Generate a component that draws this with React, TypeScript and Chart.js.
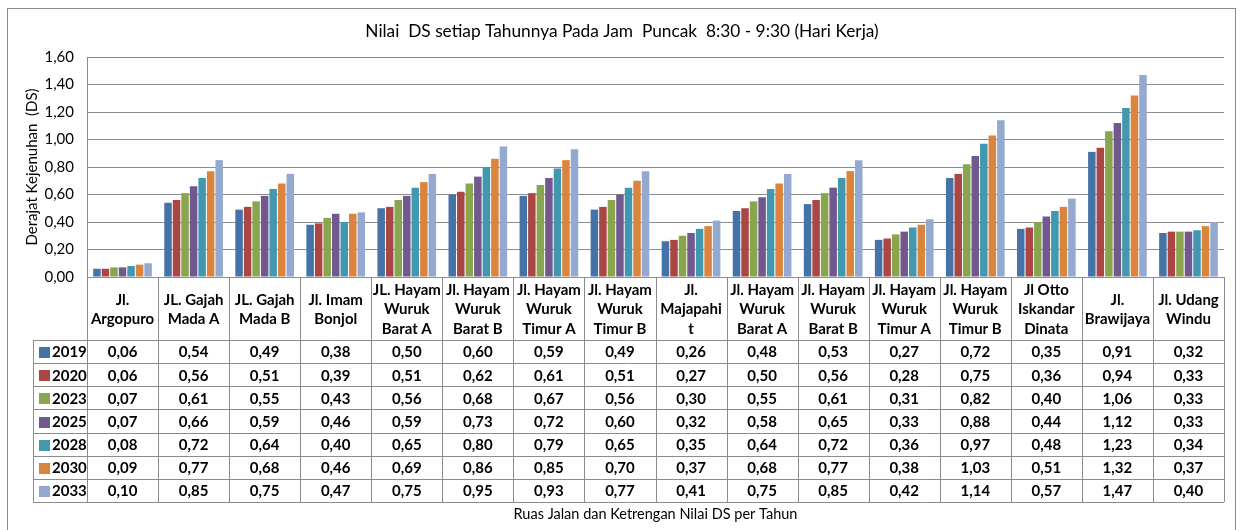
import React, { useEffect, useRef } from "react";
import { Chart, registerables } from "chart.js";

Chart.register(...registerables);

const categories: string[][] = [
  ["Jl.", "Argopuro"],
  ["JL. Gajah", "Mada A"],
  ["JL. Gajah", "Mada B"],
  ["Jl. Imam", "Bonjol"],
  ["JL. Hayam", "Wuruk", "Barat A"],
  ["Jl. Hayam", "Wuruk", "Barat B"],
  ["Jl. Hayam", "Wuruk", "Timur A"],
  ["Jl. Hayam", "Wuruk", "Timur B"],
  ["Jl.", "Majapahi", "t"],
  ["Jl. Hayam", "Wuruk", "Barat A"],
  ["Jl. Hayam", "Wuruk", "Barat B"],
  ["Jl. Hayam", "Wuruk", "Timur A"],
  ["Jl. Hayam", "Wuruk", "Timur B"],
  ["Jl Otto", "Iskandar", "Dinata"],
  ["Jl.", "Brawijaya"],
  ["Jl. Udang", "Windu"],
];

const years = ["2019", "2020", "2023", "2025", "2028", "2030", "2033"];

const ds2019 = [0.06, 0.54, 0.49, 0.38, 0.5, 0.6, 0.59, 0.49, 0.26, 0.48, 0.53, 0.27, 0.72, 0.35, 0.91, 0.32];
const ds2020 = [0.06, 0.56, 0.51, 0.39, 0.51, 0.62, 0.61, 0.51, 0.27, 0.5, 0.56, 0.28, 0.75, 0.36, 0.94, 0.33];
const ds2023 = [0.07, 0.61, 0.55, 0.43, 0.56, 0.68, 0.67, 0.56, 0.3, 0.55, 0.61, 0.31, 0.82, 0.4, 1.06, 0.33];
const ds2025 = [0.07, 0.66, 0.59, 0.46, 0.59, 0.73, 0.72, 0.6, 0.32, 0.58, 0.65, 0.33, 0.88, 0.44, 1.12, 0.33];
const ds2028 = [0.08, 0.72, 0.64, 0.4, 0.65, 0.8, 0.79, 0.65, 0.35, 0.64, 0.72, 0.36, 0.97, 0.48, 1.23, 0.34];
const ds2030 = [0.09, 0.77, 0.68, 0.46, 0.69, 0.86, 0.85, 0.7, 0.37, 0.68, 0.77, 0.38, 1.03, 0.51, 1.32, 0.37];
const ds2033 = [0.1, 0.85, 0.75, 0.47, 0.75, 0.95, 0.93, 0.77, 0.41, 0.75, 0.85, 0.42, 1.14, 0.57, 1.47, 0.4];

const seriesValues = [ds2019, ds2020, ds2023, ds2025, ds2028, ds2030, ds2033];
const colors = ["#4572A7", "#AA4643", "#89A54E", "#71588F", "#4198AF", "#DB843D", "#93A9CF"];

const yTicks = [0, 0.2, 0.4, 0.6, 0.8, 1.0, 1.2, 1.4, 1.6];

const titleText = "Nilai  DS setiap Tahunnya Pada Jam  Puncak  8:30 - 9:30 (Hari Kerja)";
const yTitleText = "Derajat Kejenuhan  (DS)";
const xTitleText = "Ruas Jalan dan Ketrengan Nilai DS per Tahun";

const fmt = (v: number) => v.toFixed(2).replace(".", ",");
const FONT = "Lato, 'Open Sans', sans-serif";
const LINE = "#8c8c8c";

const tablePlugin = {
  id: "dataTable",
  beforeDraw(chart: any) {
    const ctx = chart.ctx;
    ctx.save();
    ctx.fillStyle = "#ffffff";
    ctx.fillRect(0, 0, chart.width, chart.height);
    ctx.restore();
  },
  afterDraw(chart: any) {
    const ctx = chart.ctx as CanvasRenderingContext2D;
    const { left, right, top, bottom } = chart.chartArea;
    const n = categories.length;
    const colW = (right - left) / n;
    const headerH = 63;
    const rowH = 23.15;
    const headerBottom = bottom + headerH;
    const tableBottom = headerBottom + rowH * years.length;
    const legendLeft = 33;

    ctx.save();
    // outer frame
    ctx.strokeStyle = "#8a8a8a";
    ctx.lineWidth = 1;
    ctx.strokeRect(7.5, 8.5, 1228, 540);

    // table lines
    ctx.strokeStyle = LINE;
    ctx.lineWidth = 1;
    ctx.beginPath();
    ctx.moveTo(left, Math.round(bottom) + 0.5);
    ctx.lineTo(right, Math.round(bottom) + 0.5);
    for (let r = 0; r <= years.length; r++) {
      const y = Math.round(headerBottom + r * rowH) + 0.5;
      ctx.moveTo(legendLeft, y);
      ctx.lineTo(right, y);
    }
    for (let i = 0; i <= n; i++) {
      const x = Math.round(left + i * colW) + 0.5;
      ctx.moveTo(x, bottom);
      ctx.lineTo(x, tableBottom);
    }
    ctx.moveTo(legendLeft + 0.5, headerBottom);
    ctx.lineTo(legendLeft + 0.5, tableBottom);
    ctx.stroke();

    // header text
    ctx.fillStyle = "#000000";
    ctx.font = `bold 15px ${FONT}`;
    ctx.textAlign = "center";
    ctx.textBaseline = "middle";
    const xs = chart.scales.x;
    categories.forEach((lines, i) => {
      const cx = xs.getPixelForValue(i);
      const lh = 19.5;
      const cy = bottom + headerH / 2 + 1;
      const start = cy - ((lines.length - 1) * lh) / 2;
      lines.forEach((t, k) => ctx.fillText(t, cx, start + k * lh));
    });

    // data rows
    years.forEach((yr, r) => {
      const cy = headerBottom + r * rowH + rowH / 2 + 1;
      ctx.fillStyle = colors[r];
      ctx.fillRect(legendLeft + 6, Math.round(cy - 5.5), 11, 11);
      ctx.fillStyle = "#000000";
      ctx.textAlign = "left";
      ctx.fillText(yr, legendLeft + 19, cy);
      ctx.textAlign = "center";
      seriesValues[r].forEach((v, i) => {
        ctx.fillText(fmt(v), xs.getPixelForValue(i), cy);
      });
    });

    // titles
    ctx.font = `17.3px ${FONT}`;
    ctx.textAlign = "center";
    ctx.fillText(titleText, 622, 31);

    ctx.font = `14.5px ${FONT}`;
    ctx.fillText(xTitleText, (left + right) / 2, 514);

    ctx.save();
    ctx.font = `15px ${FONT}`;
    ctx.translate(32, (top + bottom) / 2);
    ctx.rotate(-Math.PI / 2);
    ctx.fillText(yTitleText, 0, 0);
    ctx.restore();

    ctx.restore();
  },
};

export default function App() {
  const ref = useRef<HTMLCanvasElement | null>(null);
  useEffect(() => {
    if (!ref.current) return;
    const chart = new Chart(ref.current, {
      type: "bar",
      data: {
        labels: categories.map((c) => c.join(" ")),
        datasets: years.map((yr, i) => ({
          label: yr,
          data: seriesValues[i],
          backgroundColor: colors[i],
          borderWidth: 0,
          categoryPercentage: 0.84,
          barPercentage: 0.88,
        })),
      },
      options: {
        responsive: false,
        animation: false,
        layout: { padding: { left: 0, right: 16, top: 57, bottom: 253 } },
        plugins: {
          legend: { display: false },
          title: { display: false },
          tooltip: { enabled: false },
        },
        scales: {
          x: {
            ticks: { display: false },
            grid: { display: false },
            border: { display: false },
            afterFit: (s: any) => {
              s.height = 0;
            },
          },
          y: {
            min: 0,
            max: 1.6,
            afterBuildTicks: (s: any) => {
              s.ticks = yTicks.map((v) => ({ value: v }));
            },
            ticks: {
              padding: 13,
              color: "#000000",
              font: { family: FONT, size: 15 },
              callback: (v: any) => fmt(Number(v)),
            },
            grid: { color: LINE, lineWidth: 1, drawTicks: false },
            border: { display: true, color: LINE },
            afterFit: (s: any) => {
              s.width = 87;
            },
          },
        },
      },
      plugins: [tablePlugin],
    });
    return () => chart.destroy();
  }, []);
  return (
    <div style={{ position: "fixed", left: 0, top: 0, width: 1240, height: 530, background: "#fff" }}>
      <canvas ref={ref} width={1240} height={530} style={{ display: "block" }} />
    </div>
  );
}
